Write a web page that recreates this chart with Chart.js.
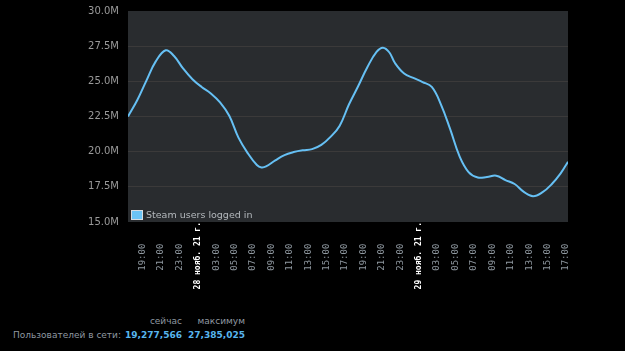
<!DOCTYPE html>
<html>
<head>
<meta charset="utf-8">
<script src="https://cdn.jsdelivr.net/npm/chart.js@4"></script>
<style>
  body { margin: 0; background: #000; }
  #wrap { position: relative; width: 625px; height: 351px; overflow: hidden; }
  #chart-box { position: absolute; left: 0; top: 0; width: 625px; height: 300px; }
  #legend { position: absolute; left: 131px; top: 209px; font: 9.5px "DejaVu Sans", sans-serif; color: #b4b9bd; display: flex; align-items: center; }
  #legend .box { width: 10px; height: 8px; background: #6ac4f6; border: 1px solid #d6dde2; margin-right: 3px; }
  .stat { position: absolute; font: 9px "DejaVu Sans", sans-serif; color: #8f98a0; white-space: nowrap; }
  .num { color: #57b5ee; font-weight: bold; }
</style>
</head>
<body>
<div id="wrap">
  <div id="chart-box"><canvas id="usersChart"></canvas></div>
  <div id="legend"><span class="box"></span><span>Steam users logged in</span></div>
  <div class="stat" style="right:443px; top:316px;">сейчас</div>
  <div class="stat" style="right:380px; top:316px;">максимум</div>
  <div class="stat" style="left:13px; top:330px;">Пользователей в сети:</div>
  <div class="stat num" id="now" style="right:443px; top:330px;"></div>
  <div class="stat num" id="peak" style="right:380px; top:330px;"></div>
</div>
<script>
// hours since the start of the window (27 nov, 17:25)
const START_HOUR = 17 + 25 / 60;
const END_HOUR = 47.8;
const hours = [0, 1, 2, 3, 4.1, 5, 6, 7, 8, 9, 10, 11, 12, 13, 14, 14.5, 15, 16, 17, 18,
  19, 20, 21, 22, 23, 24, 25, 26, 27, 27.7, 28.4, 29, 30, 31, 32, 33, 34, 35, 36, 37,
  38, 39, 40, 41, 42, 43, 44, 45, 46, 47, 47.8];
// users online, millions
const users = [22.5, 23.65, 25.05, 26.4, 27.21, 26.8, 25.9, 25.15, 24.6, 24.14, 23.5, 22.55,
  21.0, 19.9, 19.05, 18.88, 18.95, 19.38, 19.76, 19.97, 20.1, 20.18, 20.48, 21.05, 21.85,
  23.35, 24.65, 26.0, 27.09, 27.39, 27.05, 26.3, 25.55, 25.24, 24.95, 24.6, 23.35, 21.6,
  19.7, 18.55, 18.16, 18.2, 18.29, 17.98, 17.7, 17.14, 16.83, 17.1, 17.67, 18.46, 19.28];
const dayLabels = ["27 нояб. 21 г.", "28 нояб. 21 г.", "29 нояб. 21 г."];
const yTicks = [15, 17.5, 20, 22.5, 25, 27.5, 30];
const currentUsers = 19277566;
const peakUsers = 27385025;

document.getElementById("now").textContent = currentUsers.toLocaleString("en-US");
document.getElementById("peak").textContent = peakUsers.toLocaleString("en-US");

function clockOf(h) {
  const t = Math.round(START_HOUR + h);
  return { hour: ((t % 24) + 24) % 24, day: Math.floor(t / 24) };
}
function isDateTick(c) {
  return !!(c && c.tick) && clockOf(c.tick.value).hour === 1;
}

const plotBg = {
  id: "plotBg",
  beforeDraw(chart) {
    const { ctx, chartArea: a } = chart;
    ctx.save();
    ctx.fillStyle = "#292c2f";
    ctx.fillRect(a.left, a.top, a.right - a.left, a.bottom - a.top);
    ctx.restore();
  },
};

new Chart(document.getElementById("usersChart"), {
  type: "line",
  data: {
    datasets: [
      {
        label: "Steam users logged in",
        data: hours.map((h, i) => ({ x: h, y: users[i] })),
        borderColor: "#66c0f4",
        borderWidth: 2,
        pointRadius: 0,
        tension: 0.4,
        fill: false,
      },
    ],
  },
  options: {
    responsive: true,
    maintainAspectRatio: false,
    animation: false,
    layout: { padding: { top: 11, right: 57, left: 0, bottom: 0 } },
    plugins: { legend: { display: false }, tooltip: { enabled: false } },
    scales: {
      x: {
        type: "linear",
        min: 0,
        max: END_HOUR,
        afterBuildTicks(scale) {
          const ticks = [];
          for (let h = 19 - START_HOUR; h <= END_HOUR; h += 2) ticks.push({ value: h });
          scale.ticks = ticks;
        },
        afterFit(scale) {
          scale.height = 78;
          scale.paddingLeft = 0;
          scale.paddingRight = 0;
          scale.paddingTop = 0;
          scale.paddingBottom = 0;
        },
        grid: { display: false, drawTicks: false },
        border: { display: false },
        ticks: {
          autoSkip: false,
          maxRotation: 90,
          minRotation: 90,
          padding: 0,
          color: (c) => (isDateTick(c) ? "#ffffff" : "#8f98a0"),
          font: (c) =>
            isDateTick(c)
              ? { family: "DejaVu Sans Mono", size: 8, weight: "bold" }
              : { family: "DejaVu Sans Mono", size: 9 },
          callback(value) {
            const c = clockOf(value);
            if (c.hour === 1) return dayLabels[c.day];
            return String(c.hour).padStart(2, "0") + ":00    ";
          },
        },
      },
      y: {
        min: 15,
        max: 30,
        afterBuildTicks(scale) {
          scale.ticks = yTicks.map((v) => ({ value: v }));
        },
        afterFit(scale) {
          scale.width = 128;
          scale.paddingTop = 0;
          scale.paddingBottom = 0;
        },
        grid: {
          drawTicks: false,
          color: (c) =>
            c.tick && (c.tick.value === 15 || c.tick.value === 30) ? "transparent" : "#3b3a3a",
        },
        border: { display: false },
        ticks: {
          padding: 9,
          color: "#9a9a9a",
          font: { family: "DejaVu Sans", size: 10 },
          callback: (v) => v.toFixed(1) + "M",
        },
      },
    },
  },
  plugins: [plotBg],
});
</script>
</body>
</html>
